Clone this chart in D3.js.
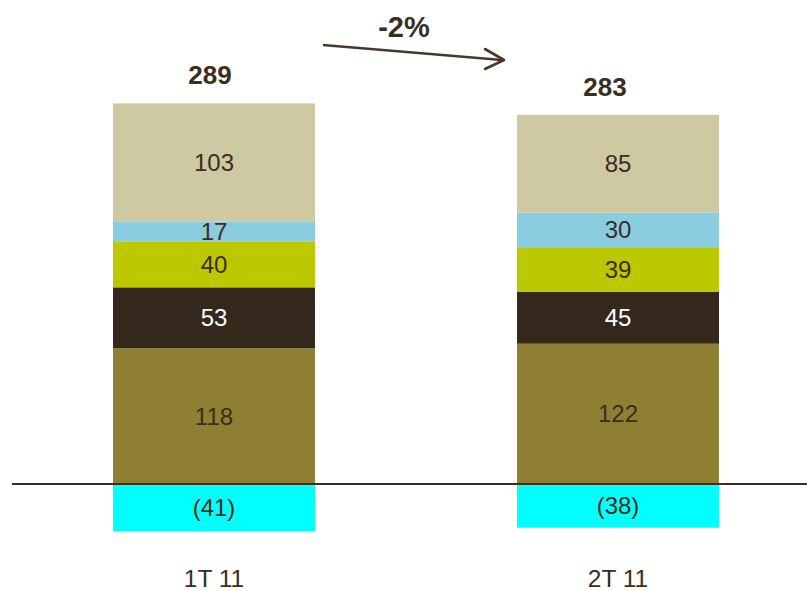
<!DOCTYPE html>
<html>
<head>
<meta charset="utf-8">
<script src="https://cdn.jsdelivr.net/npm/d3@7"></script>
<style>
  html, body { margin: 0; padding: 0; background: #ffffff; }
  svg { display: block; font-family: "Liberation Sans", Arial, sans-serif; }
</style>
</head>
<body>
<svg id="chart" width="807" height="591"></svg>
<script>
// Quarters
const categories = ["1T 11", "2T 11"];

// Stacked components, bottom to top (positive side)
const seriesNames = ["s1", "s2", "s3", "s4", "s5"];
const s1 = [118, 122];
const s2 = [53, 45];
const s3 = [40, 39];
const s4 = [17, 30];
const s5 = [103, 85];
// Negative component below the axis
const negative = [-41, -38];
// Net totals shown above each bar
const totals = [289, 283];
const changeLabel = "-2%";

const seriesValues = [s1, s2, s3, s4, s5];
const seriesColors = ["#8f7f32", "#34271c", "#bcc800", "#8bcde0", "#cfc9a2"];
const labelColors = ["#3b2d20", "#ffffff", "#3b2d20", "#3b2d20", "#3b2d20"];
const negColor = "#00ffff";
const textColor = "#3b2d20";

const svg = d3.select("#chart");

const x = d3.scaleBand()
  .domain(categories)
  .range([12, 820])
  .paddingInner(0.5)
  .paddingOuter(0.25);

const y = d3.scaleLinear()
  .domain([-50, 350])
  .range([541.5, 81.5]);

// Build stacked rows
const rows = categories.map((c, i) => {
  const r = { cat: c };
  seriesNames.forEach((n, k) => r[n] = seriesValues[k][i]);
  return r;
});
const stacked = d3.stack().keys(seriesNames)(rows);

const g = svg.append("g");

stacked.forEach((layer, k) => {
  const lg = g.append("g");
  lg.selectAll("rect")
    .data(layer)
    .join("rect")
    .attr("x", d => x(d.data.cat))
    .attr("width", x.bandwidth())
    .attr("y", d => y(d[1]))
    .attr("height", d => y(d[0]) - y(d[1]))
    .attr("fill", seriesColors[k]);
  lg.selectAll("text")
    .data(layer)
    .join("text")
    .attr("x", d => x(d.data.cat) + x.bandwidth() / 2)
    .attr("y", d => (y(d[0]) + y(d[1])) / 2)
    .attr("dy", "0.36em")
    .attr("text-anchor", "middle")
    .attr("font-size", 24)
    .attr("fill", labelColors[k])
    .text(d => d[1] - d[0]);
});

// Negative segment
const ng = g.append("g");
ng.selectAll("rect")
  .data(negative)
  .join("rect")
  .attr("x", (d, i) => x(categories[i]))
  .attr("width", x.bandwidth())
  .attr("y", y(0))
  .attr("height", d => y(d) - y(0))
  .attr("fill", negColor);
ng.selectAll("text")
  .data(negative)
  .join("text")
  .attr("x", (d, i) => x(categories[i]) + x.bandwidth() / 2)
  .attr("y", d => (y(d) + y(0)) / 2)
  .attr("dy", "0.36em")
  .attr("text-anchor", "middle")
  .attr("font-size", 24)
  .attr("fill", textColor)
  .text(d => "(" + Math.abs(d) + ")");

// Zero line
svg.append("line")
  .attr("x1", 12).attr("x2", 807)
  .attr("y1", y(0)).attr("y2", y(0))
  .attr("stroke", "#3d2e22")
  .attr("stroke-width", 2);

// Totals above bars (slightly left of the bar centre)
const totalShift = [-4, -13];
const tops = categories.map((c, i) => d3.sum(seriesValues, s => s[i]));
svg.append("g").selectAll("text")
  .data(totals)
  .join("text")
  .attr("x", (d, i) => x(categories[i]) + x.bandwidth() / 2 + totalShift[i])
  .attr("y", (d, i) => y(tops[i]) - 19)
  .attr("text-anchor", "middle")
  .attr("font-size", 26)
  .attr("font-weight", "bold")
  .attr("fill", textColor)
  .text(d => d);

// Category labels
svg.append("g").selectAll("text")
  .data(categories)
  .join("text")
  .attr("x", d => x(d) + x.bandwidth() / 2)
  .attr("y", 587)
  .attr("text-anchor", "middle")
  .attr("font-size", 24.5)
  .attr("fill", textColor)
  .text(d => d);

// Change arrow between the two bars
const arrowColor = "#4a3728";
const ax0 = 323, ay0 = 45, ax1 = 504, ay1 = 60;
svg.append("line")
  .attr("x1", ax0).attr("y1", ay0).attr("x2", ax1 - 2).attr("y2", ay1)
  .attr("stroke", arrowColor).attr("stroke-width", 2.6);
svg.append("path")
  .attr("d", `M485,49 L${ax1},${ay1} L485,69`)
  .attr("fill", "none")
  .attr("stroke", arrowColor)
  .attr("stroke-width", 2.6)
  .attr("stroke-linecap", "round")
  .attr("stroke-linejoin", "round");
svg.append("text")
  .attr("x", 404)
  .attr("y", 37)
  .attr("text-anchor", "middle")
  .attr("font-size", 29)
  .attr("font-weight", "bold")
  .attr("fill", textColor)
  .text(changeLabel);
</script>
</body>
</html>
